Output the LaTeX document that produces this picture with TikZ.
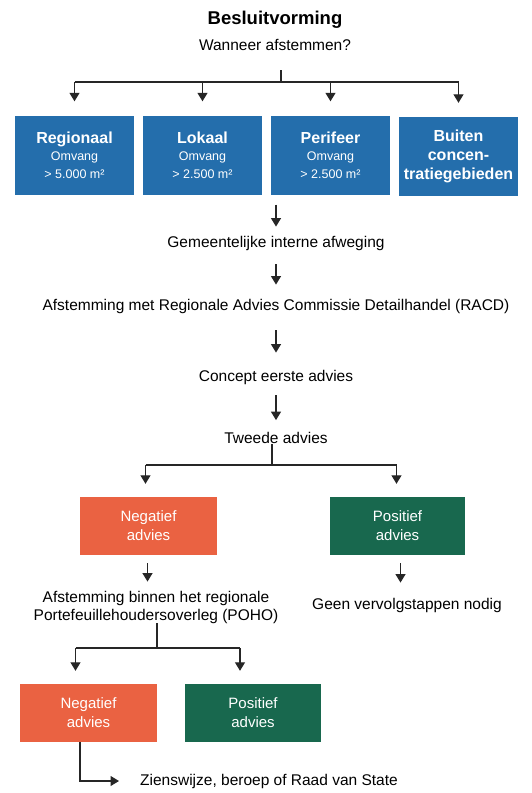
\documentclass[tikz,border=0pt]{standalone}
\usepackage{fontspec}
\setmainfont{Liberation Sans}
\usetikzlibrary{positioning,arrows.meta}

\definecolor{areablue}{RGB}{36,110,172}
\definecolor{negred}{RGB}{234,98,66}
\definecolor{posgreen}{RGB}{24,104,78}

\newcommand{\boxhead}[1]{{\bfseries\fontsize{16}{19}\selectfont #1}}

\begin{document}
\begin{tikzpicture}[
		x=1pt,y=1pt,
		on grid,
		node distance=20pt and 128pt,
		flowtext/.style={align=center,font=\fontsize{15.5}{18}\selectfont,inner sep=0pt},
		areabox/.style={fill=areablue,text=white,align=center,minimum width=119pt,minimum height=79pt,inner sep=0pt,font=\fontsize{12.5}{17.5}\selectfont},
		advbox/.style={text=white,align=center,minimum width=137pt,minimum height=58pt,inner sep=0pt,font=\fontsize{15}{19}\selectfont},
		negbox/.style={advbox,fill=negred},
		posbox/.style={advbox,fill=posgreen},
		line/.style={draw=black!85,line width=1.2pt},
		arr/.style={line,-{Triangle[width=10pt,length=8.5pt]}}
		]
		\useasboundingbox (0,0) rectangle (531,-793);
		\node[font=\bfseries\fontsize{18.5}{22}\selectfont] (title) at (275,-20) {Besluitvorming};
		\node[flowtext,below=25pt of title] (ask) {Wanneer afstemmen?};

		% vier soorten
		\node[areabox] (regio) at (74.5,-155) {\boxhead{Regionaal}\\Omvang\\> 5.000 m²};
		\node[areabox,right=of regio] (lokaal) {\boxhead{Lokaal}\\Omvang\\> 2.500 m²};
		\node[areabox,right=of lokaal] (perifeer) {\boxhead{Perifeer}\\Omvang\\> 2.500 m²};
		\node[areabox,right=of perifeer,yshift=-1.5pt,font=\bfseries\fontsize{16}{19}\selectfont] (buiten) {Buiten\\concen-\\tratiegebieden};

		\coordinate (hubtop) at (281,-70);
		\coordinate (hub) at (281,-82);
		\draw[line] (hubtop) -- (hub);
		\draw[line] (regio |- hub) -- (buiten |- hub);
		\foreach \b in {regio,lokaal,perifeer,buiten}
			\draw[arr,shorten >=14pt] (\b |- hub) -- (\b.north);

		% hoofdlijn
		\node[flowtext] (gem) at (276,-243) {Gemeentelijke interne afweging};
		\node[flowtext,below=63pt of gem] (racd) {Afstemming met Regionale Advies Commissie Detailhandel (RACD)};
		\node[flowtext,below=71pt of racd] (concept) {Concept eerste advies};
		\node[flowtext,below=61pt of concept] (tweede) {Tweede advies};
		\path
		(perifeer.south -| gem) edge[arr,shorten <=10pt,shorten >=9pt] (gem.north)
		(gem.south) edge[arr,shorten <=14pt,shorten >=14pt] (racd.north)
		(racd.south) edge[arr,shorten <=17pt,shorten >=17pt] (concept.north)
		(concept.south) edge[arr,shorten <=11pt,shorten >=12pt] (tweede.north);

		% tweede advies
		\node[negbox] (neg) at (148.5,-526) {Negatief\\advies};
		\node[posbox,right=249pt of neg,minimum width=135pt] (pos) {Positief\\advies};
		\coordinate (split) at (272,-465);
		\draw[line] (tweede.south -| split) -- (split);
		\draw[line] ([xshift=-3pt]neg |- split) -- ([xshift=-1pt]pos |- split);
		\draw[arr,shorten >=13pt] ([xshift=-3pt]neg |- split) -- ([xshift=-3pt]neg.north);
		\draw[arr,shorten >=13pt] ([xshift=-1pt]pos |- split) -- ([xshift=-1pt]pos.north);

		\node[flowtext] (poho) at (156,-607) {Afstemming binnen het regionale\\Portefeuillehoudersoverleg (POHO)};
		\node[flowtext] (geen) at (407,-605) {Geen vervolgstappen nodig};
		\draw[arr,shorten <=8pt,shorten >=9pt] ([xshift=-1pt]neg.south) -- ([xshift=-1pt]neg.south |- poho.north);
		\draw[arr,shorten <=8pt,shorten >=15pt] ([xshift=3pt]pos.south) -- ([xshift=3pt]pos.south |- geen.north);

		% POHO
		\node[negbox] (neg2) at (88.5,-713) {Negatief\\advies};
		\node[posbox,right=164.5pt of neg2,minimum width=136pt] (pos2) {Positief\\advies};
		\coordinate (split2) at (157,-648);
		\draw[line] (poho.south -| split2) -- (split2);
		\draw[line] ([xshift=-13pt]neg2 |- split2) -- ([xshift=-13pt]pos2 |- split2);
		\draw[arr,shorten >=13pt] ([xshift=-13pt]neg2 |- split2) -- ([xshift=-13pt]neg2.north);
		\draw[arr,shorten >=13pt] ([xshift=-13pt]pos2 |- split2) -- ([xshift=-13pt]pos2.north);

		\node[flowtext,anchor=west] (zienswijze) at (140,-781) {Zienswijze, beroep of Raad van State};
		\coordinate (bend) at (80,-781);
		\draw[arr,shorten >=21pt] (neg2.south -| bend) -- (bend) -- (zienswijze.west);
	\end{tikzpicture}
\end{document}
